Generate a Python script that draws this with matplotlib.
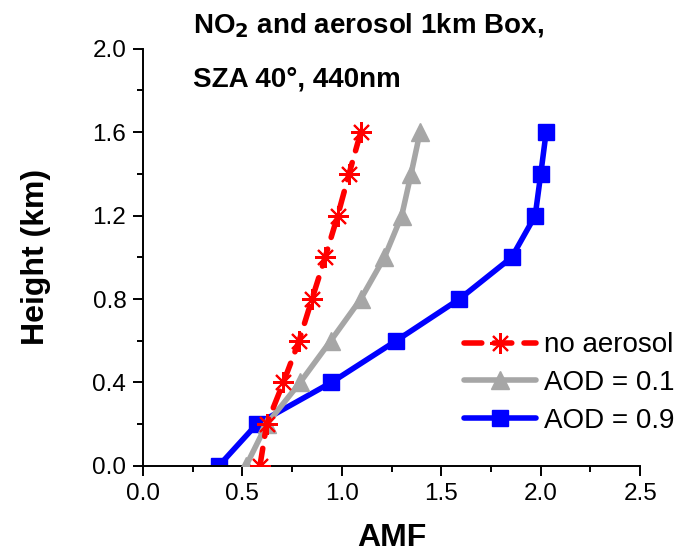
import matplotlib.pyplot as plt

plt.rcParams['font.family'] = ['Liberation Sans', 'DejaVu Sans']

heights = [0.0, 0.2, 0.4, 0.6, 0.8, 1.0, 1.2, 1.4, 1.6]
amf_no_aerosol = [0.588, 0.622, 0.706, 0.785, 0.850, 0.916, 0.979, 1.036, 1.095]
amf_aod_01 = [0.518, 0.622, 0.790, 0.944, 1.095, 1.214, 1.301, 1.348, 1.393]
amf_aod_09 = [0.381, 0.572, 0.947, 1.273, 1.591, 1.854, 1.972, 2.000, 2.027]

fig = plt.figure(figsize=(6.84, 5.54), dpi=100)
ax = fig.add_axes([0.209, 0.159, 0.727, 0.753])

ax.plot(amf_no_aerosol, heights, color='red', lw=4, ls=(0, (3.2, 2.2)),
        marker=(8, 2, 0), ms=15, mew=1.5, dash_capstyle='round',
        label='no aerosol', zorder=4)
ax.plot(amf_aod_01, heights, color='#a6a6a6', lw=4, marker='^', ms=13,
        solid_capstyle='round', label='AOD = 0.1', zorder=3)
ax.plot(amf_aod_09, heights, color='#0000ff', lw=4, marker='s', ms=11,
        solid_capstyle='round', label='AOD = 0.9', zorder=2)

ax.set_xlim(0, 2.5)
ax.set_ylim(0, 2.0)
ax.set_xticks([0, 0.5, 1.0, 1.5, 2.0, 2.5])
ax.set_xticks([0.25, 0.75, 1.25, 1.75, 2.25], minor=True)
ax.set_yticks([0, 0.4, 0.8, 1.2, 1.6, 2.0])
ax.set_yticks([0.2, 0.6, 1.0, 1.4, 1.8], minor=True)
ax.xaxis.set_major_formatter(plt.FormatStrFormatter('%.1f'))
ax.yaxis.set_major_formatter(plt.FormatStrFormatter('%.1f'))

for s in ['top', 'right']:
    ax.spines[s].set_visible(False)
for s in ['left', 'bottom']:
    ax.spines[s].set_linewidth(1.4)
ax.tick_params(which='major', length=7, width=1.4, labelsize=17.5, pad=5)
ax.tick_params(which='minor', length=4.5, width=1.4)

ax.set_xlabel('AMF', fontsize=23, fontweight='bold', labelpad=13)
ax.set_ylabel('Height (km)', fontsize=23, fontweight='bold', labelpad=30)

fig.text(0.282, 0.940, 'NO$_\\mathbf{2}$ and aerosol 1km Box,', fontsize=20,
         fontweight='bold', ha='left', va='baseline')
fig.text(0.282, 0.843, 'SZA 40°, 440nm', fontsize=20, fontweight='bold',
         ha='left', va='baseline')

ax.legend(loc='lower left', bbox_to_anchor=(0.645, 0.077), frameon=False,
          fontsize=20, handlelength=2.6, handletextpad=0.3, labelspacing=0.42,
          borderaxespad=0, borderpad=0)

fig.savefig('out.png', dpi=100)
